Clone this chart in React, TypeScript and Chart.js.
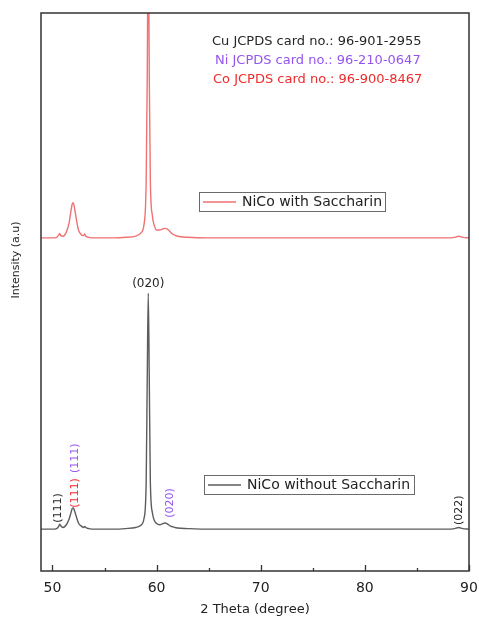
import React, { useEffect, useRef } from "react";
import { Chart, registerables } from "chart.js";

Chart.register(...registerables);

// 2θ positions (degree) shared by both patterns
const twoTheta = [
  48.9, 49.5, 50.0, 50.4, 50.6, 50.7, 50.8, 51.0, 51.3, 51.6,
  51.8, 51.9, 52.0, 52.1, 52.3, 52.5, 52.8, 53.0, 53.1, 53.2,
  53.5, 54.0, 55.0, 56.0, 57.0, 58.0, 58.5, 58.8, 59.0, 59.1,
  59.2, 59.3, 59.4, 59.6, 59.8, 60.0, 60.3, 60.6, 60.8, 61.0,
  61.3, 61.6, 62.0, 63.0, 65.0, 70.0, 75.0, 80.0, 85.0, 88.0,
  88.6, 89.0, 89.4, 90.0,
];

// NiCo without Saccharin (arbitrary units, stacked lower)
const withoutSaccharin = [
  75, 75, 75, 76, 80, 84, 81, 78, 82, 93,
  106, 112, 113, 109, 97, 86, 80, 78, 80, 78,
  76, 75, 75, 75, 76, 78, 82, 95, 160, 340,
  498, 340, 160, 104, 90, 85, 83, 85, 86, 85,
  81, 79, 77, 76, 75, 75, 75, 75, 75, 75,
  76, 78, 76, 75,
];

// NiCo with Saccharin (arbitrary units, stacked upper)
const withSaccharin = [
  597, 597, 597, 598, 602, 605, 601, 600, 606, 624,
  648, 658, 660, 652, 630, 611, 602, 601, 604, 600,
  598, 597, 597, 597, 598, 600, 606, 622, 700, 880,
  1150, 880, 700, 636, 618, 611, 611, 613, 614, 613,
  608, 603, 600, 598, 597, 597, 597, 597, 597, 597,
  598, 600, 598, 597,
];

const xMajorTicks = [50, 60, 70, 80, 90];
const xMinorTicks = [55, 65, 75, 85];
const seriesNames = ["NiCo with Saccharin", "NiCo without Saccharin"];
const cardLines = [
  "Cu JCPDS card no.: 96-901-2955",
  "Ni JCPDS card no.: 96-210-0647",
  "Co JCPDS card no.: 96-900-8467",
];
// peak labels: text, 2θ, intensity position, phase
const peakTexts = ["(111)", "(111)", "(111)", "(020)", "(020)", "(022)"];
const peakTheta = [50.53, 52.22, 52.22, 59.2, 61.3, 89.1];
const peakLevel = [113, 140, 202, 514, 122, 109];
const peakPhase = ["Cu", "Co", "Ni", "Cu", "Ni", "Cu"];

const FONT = "'DejaVu Sans', Arial, sans-serif";
const phaseColor: Record<string, string> = {
  Cu: "#262626",
  Ni: "#9455ee",
  Co: "#ee2b2b",
};

export default function App() {
  const ref = useRef<HTMLCanvasElement | null>(null);

  useEffect(() => {
    if (!ref.current) return;

    const decor = {
      id: "decor",
      afterDraw(chart: any) {
        const { ctx, chartArea } = chart;
        const xs = chart.scales.x;
        const ys = chart.scales.y;
        const { left, right, top, bottom } = chartArea;
        ctx.save();

        // frame
        ctx.strokeStyle = "#333";
        ctx.lineWidth = 1.5;
        ctx.strokeRect(left, top, right - left, bottom - top);

        // inward ticks
        ctx.lineWidth = 1.3;
        ctx.beginPath();
        xMajorTicks.forEach((v) => {
          const px = Math.round(xs.getPixelForValue(v)) + 0.5;
          ctx.moveTo(px, bottom);
          ctx.lineTo(px, bottom - 6);
        });
        xMinorTicks.forEach((v) => {
          const px = Math.round(xs.getPixelForValue(v)) + 0.5;
          ctx.moveTo(px, bottom);
          ctx.lineTo(px, bottom - 3);
        });
        ctx.stroke();

        // y title
        ctx.save();
        ctx.translate(16, 260);
        ctx.rotate(-Math.PI / 2);
        ctx.fillStyle = "#222";
        ctx.font = `11px ${FONT}`;
        ctx.textAlign = "center";
        ctx.textBaseline = "middle";
        ctx.fillText("Intensity (a.u)", 0, 0);
        ctx.restore();

        // card text
        ctx.font = `13px ${FONT}`;
        ctx.textAlign = "left";
        ctx.textBaseline = "middle";
        const cardColors = [phaseColor.Cu, phaseColor.Ni, phaseColor.Co];
        const cardX = [212, 215, 213];
        const cardY = [42, 61, 80];
        cardLines.forEach((t, i) => {
          ctx.fillStyle = cardColors[i];
          ctx.fillText(t, cardX[i], cardY[i]);
        });

        // legend boxes
        const boxes = [
          { x: 199, y: 192, w: 186, h: 19, color: "#f07272", name: seriesNames[0] },
          { x: 204, y: 475, w: 210, h: 19, color: "#5c5c5c", name: seriesNames[1] },
        ];
        boxes.forEach((b) => {
          ctx.strokeStyle = "#6a6a6a";
          ctx.lineWidth = 1;
          ctx.strokeRect(b.x + 0.5, b.y + 0.5, b.w, b.h);
          ctx.strokeStyle = b.color;
          ctx.lineWidth = 1.3;
          ctx.beginPath();
          ctx.moveTo(b.x + 4, b.y + b.h / 2 + 0.5);
          ctx.lineTo(b.x + 37, b.y + b.h / 2 + 0.5);
          ctx.stroke();
          ctx.fillStyle = "#222";
          ctx.font = `14px ${FONT}`;
          ctx.textAlign = "left";
          ctx.textBaseline = "middle";
          ctx.fillText(b.name, b.x + 43, b.y + b.h / 2 + 1);
        });

        // peak labels
        peakTexts.forEach((t, i) => {
          const px = xs.getPixelForValue(peakTheta[i]);
          const py = ys.getPixelForValue(peakLevel[i]);
          ctx.fillStyle = phaseColor[peakPhase[i]];
          ctx.textAlign = "center";
          ctx.textBaseline = "middle";
          if (i === 3) {
            ctx.font = `12px ${FONT}`;
            ctx.fillText(t, px, py);
          } else {
            ctx.save();
            ctx.translate(px, py);
            ctx.rotate(-Math.PI / 2);
            ctx.font = `11px ${FONT}`;
            ctx.fillText(t, 0, 0);
            ctx.restore();
          }
        });

        ctx.restore();
      },
    };

    const chart = new Chart(ref.current, {
      type: "line",
      data: {
        datasets: [
          {
            label: seriesNames[0],
            data: twoTheta.map((x, i) => ({ x, y: withSaccharin[i] })),
            borderColor: "#f07272",
            borderWidth: 1.4,
            pointRadius: 0,
            cubicInterpolationMode: "monotone",
          },
          {
            label: seriesNames[1],
            data: twoTheta.map((x, i) => ({ x, y: withoutSaccharin[i] })),
            borderColor: "#5c5c5c",
            borderWidth: 1.4,
            pointRadius: 0,
            cubicInterpolationMode: "monotone",
          },
        ],
      },
      options: {
        responsive: false,
        animation: false,
        devicePixelRatio: 1,
        layout: { padding: { left: 41, top: 13, right: 10, bottom: 0 } },
        plugins: { legend: { display: false }, tooltip: { enabled: false } },
        scales: {
          x: {
            type: "linear",
            min: 48.9,
            max: 90,
            border: { display: false },
            grid: { display: false, drawTicks: false },
            ticks: {
              stepSize: 10,
              includeBounds: false,
              padding: 9,
              color: "#222",
              font: { family: FONT, size: 14 },
            },
            title: {
              display: true,
              text: "2 Theta (degree)",
              color: "#222",
              font: { family: FONT, size: 13 },
              padding: { top: 0, bottom: 0 },
            },
            afterFit: (s: any) => {
              s.height = 46;
              s.paddingLeft = 0;
              s.paddingRight = 0;
            },
          },
          y: { display: false, min: 0, max: 1000 },
        },
      } as any,
      plugins: [decor],
    });

    return () => chart.destroy();
  }, []);

  return (
    <div style={{ position: "absolute", left: 0, top: 0, width: 479, height: 617 }}>
      <canvas ref={ref} width={479} height={617} style={{ display: "block" }} />
    </div>
  );
}
